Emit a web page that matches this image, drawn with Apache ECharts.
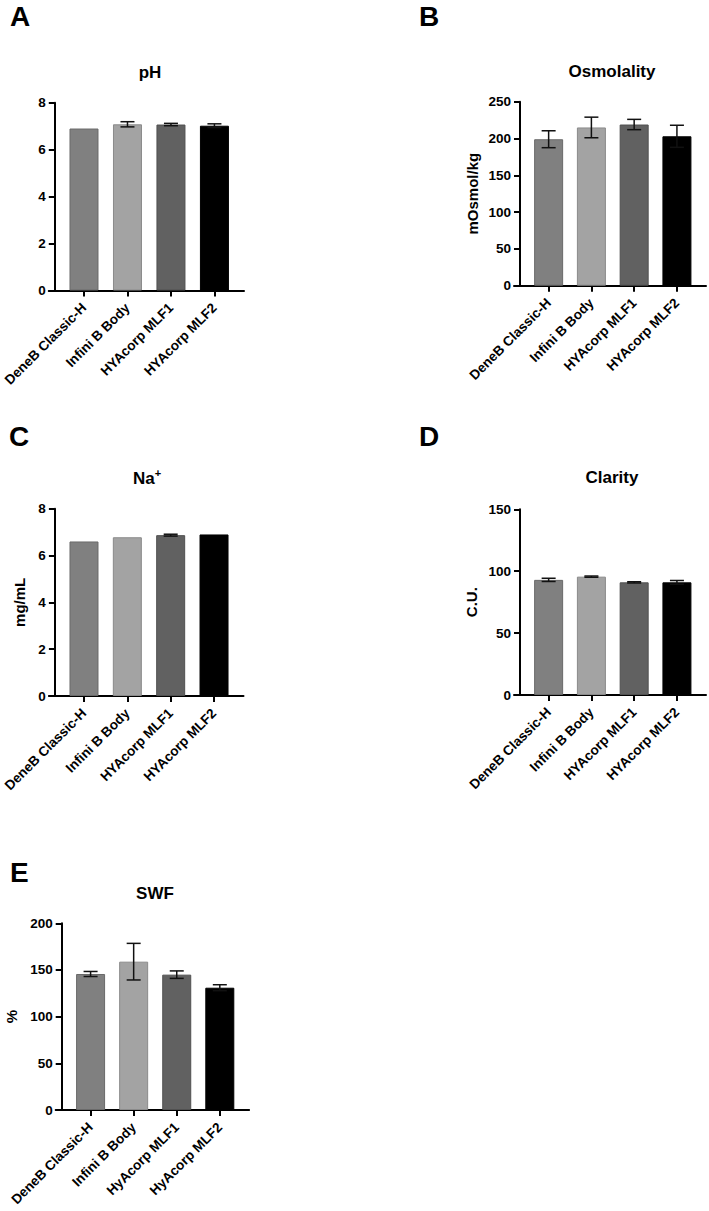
<!DOCTYPE html>
<html>
<head>
<meta charset="utf-8">
<script src="https://cdn.jsdelivr.net/npm/echarts@6/dist/echarts.min.js"></script>
<style>
  html, body { margin: 0; padding: 0; background: #fff; }
  #chart { width: 709px; height: 1211px; }
</style>
</head>
<body>
<div id="chart"></div>
<script>
// ---- data ----
const categories = ['DeneB Classic-H', 'Infini B Body', 'HYAcorp MLF1', 'HYAcorp MLF2'];
const categoriesE = ['DeneB Classic-H', 'Infini B Body', 'HyAcorp MLF1', 'HyAcorp MLF2'];

const phMean = [6.9, 7.08, 7.07, 7.02];
const phSd   = [0, 0.11, 0.05, 0.08];

const osmMean = [199, 215, 219, 203];
const osmSd   = [11.5, 14, 7, 15];

const naMean = [6.6, 6.78, 6.87, 6.9];
const naSd   = [0, 0, 0.04, 0];

const clarMean = [93, 95.6, 91, 91];
const clarSd   = [1.3, 0.5, 0.5, 1.5];

const swfMean = [145.7, 158.9, 145, 131];
const swfSd   = [2.7, 19.6, 4, 3.2];

const panelTitles = ['pH', 'Osmolality', 'Na+', 'Clarity', 'SWF'];
const panelLetters = ['A', 'B', 'C', 'D', 'E'];
const yAxisNames = ['', 'mOsmol/kg', 'mg/mL', 'C.U.', '%'];
const yMax = [8, 250, 8, 150, 200];
const yInterval = [2, 50, 2, 50, 50];

// ---- style ----
const FONT = '"Liberation Sans", Arial, sans-serif';
const barColors = ['#808080', '#a3a3a3', '#616161', '#000000'];
const barBorders = ['#6a6a6a', '#8a8a8a', '#505050', '#000000'];

const panels = [
  { grid: { left: 48, top: 102.7, width: 196, height: 187.8 }, mean: phMean, sd: phSd, cats: categories, gap: 40 },
  { grid: { left: 514, top: 101.7, width: 192, height: 184 }, mean: osmMean, sd: osmSd, cats: categories, gap: 40 },
  { grid: { left: 48, top: 508.7, width: 195.5, height: 187.3 }, mean: naMean, sd: naSd, cats: categories, gap: 28 },
  { grid: { left: 514, top: 509.3, width: 192, height: 185.7 }, mean: clarMean, sd: clarSd, cats: categories, gap: 41 },
  { grid: { left: 55.7, top: 923.3, width: 193.4, height: 186.7 }, mean: swfMean, sd: swfSd, cats: categoriesE, gap: 43 }
];

const titlePos = [[150, 72], [612, 71], [147, 478], [612, 477.5], [155, 893]];
const letterPos = [[10, 16], [419, 16], [9, 436], [419, 436], [10, 872.5]];

const grids = [], xAxes = [], yAxes = [], series = [], titles = [], graphics = [];

panels.forEach((p, k) => {
  grids.push(Object.assign({ containLabel: false }, p.grid));
  const cats = p.cats;
  xAxes.push({
    type: 'value', gridIndex: k, min: -0.81, max: 3.68,
    splitLine: { show: false },
    axisLine: { show: true, onZero: false, lineStyle: { color: '#000', width: 2 } },
    axisTick: { show: true, length: 6, lineStyle: { color: '#000', width: 2 }, customValues: [0, 1, 2, 3] },
    axisLabel: {
      customValues: [0, 1, 2, 3],
      formatter: v => cats[Math.round(v)],
      rotate: 45, margin: 15,
      fontFamily: FONT, fontSize: 13.6, fontWeight: 'bold', color: '#000'
    }
  });
  yAxes.push({
    type: 'value', gridIndex: k, min: 0, max: yMax[k], interval: yInterval[k],
    offset: -6,
    name: yAxisNames[k], nameLocation: 'middle', nameRotate: 90, nameGap: p.gap,
    nameTextStyle: { fontFamily: FONT, fontSize: 15, fontWeight: 'bold', color: '#000' },
    splitLine: { show: false },
    axisLine: { show: true, onZero: false, lineStyle: { color: '#000', width: 2 } },
    axisTick: { show: true, length: 6, lineStyle: { color: '#000', width: 2 } },
    axisLabel: { margin: 9, fontFamily: FONT, fontSize: 13.5, fontWeight: 'bold', color: '#000' }
  });
  series.push({
    type: 'bar', xAxisIndex: k, yAxisIndex: k, barWidth: 29,
    data: p.mean.map((v, i) => ({ value: [i, v], itemStyle: { color: barColors[i], borderColor: barBorders[i], borderWidth: 1 } })),
    z: 2
  });
  series.push({
    type: 'custom', xAxisIndex: k, yAxisIndex: k, z: 10,
    encode: { x: 0, y: 1 },
    data: p.mean.map((v, i) => [i, v, p.sd[i]]),
    renderItem: function (params, api) {
      const x = api.value(0), m = api.value(1), s = api.value(2);
      if (!s) return null;
      const top = api.coord([x, m + s]);
      const bot = api.coord([x, m - s]);
      const hw = 7;
      const st = { stroke: '#111', lineWidth: 1.5, fill: null };
      return {
        type: 'group',
        children: [
          { type: 'line', shape: { x1: top[0], y1: top[1], x2: bot[0], y2: bot[1] }, style: st },
          { type: 'line', shape: { x1: top[0] - hw, y1: top[1], x2: top[0] + hw, y2: top[1] }, style: st },
          { type: 'line', shape: { x1: bot[0] - hw, y1: bot[1], x2: bot[0] + hw, y2: bot[1] }, style: st }
        ]
      };
    }
  });

  const t = panelTitles[k];
  const isNa = t === 'Na+';
  titles.push({
    text: isNa ? '{b|Na}{sup|+}' : t,
    left: titlePos[k][0], top: titlePos[k][1],
    textAlign: 'center', textVerticalAlign: 'middle', padding: 0,
    textStyle: isNa ? {
      rich: {
        b: { fontFamily: FONT, fontSize: 17, fontWeight: 'bold', color: '#000', lineHeight: 21 },
        sup: { fontFamily: FONT, fontSize: 11, fontWeight: 'bold', color: '#000', lineHeight: 11, verticalAlign: 'top' }
      }
    } : { fontFamily: FONT, fontSize: 17, fontWeight: 'bold', color: '#000' }
  });
  graphics.push({
    type: 'text', x: letterPos[k][0], y: letterPos[k][1],
    style: { text: panelLetters[k], font: 'bold 28px ' + FONT, fill: '#000', textAlign: 'left', textVerticalAlign: 'middle' }
  });
});

const chart = echarts.init(document.getElementById('chart'), null, { renderer: 'svg' });
chart.setOption({
  animation: false,
  backgroundColor: '#fff',
  title: titles,
  grid: grids,
  xAxis: xAxes,
  yAxis: yAxes,
  series: series,
  graphic: graphics
});
</script>
</body>
</html>
